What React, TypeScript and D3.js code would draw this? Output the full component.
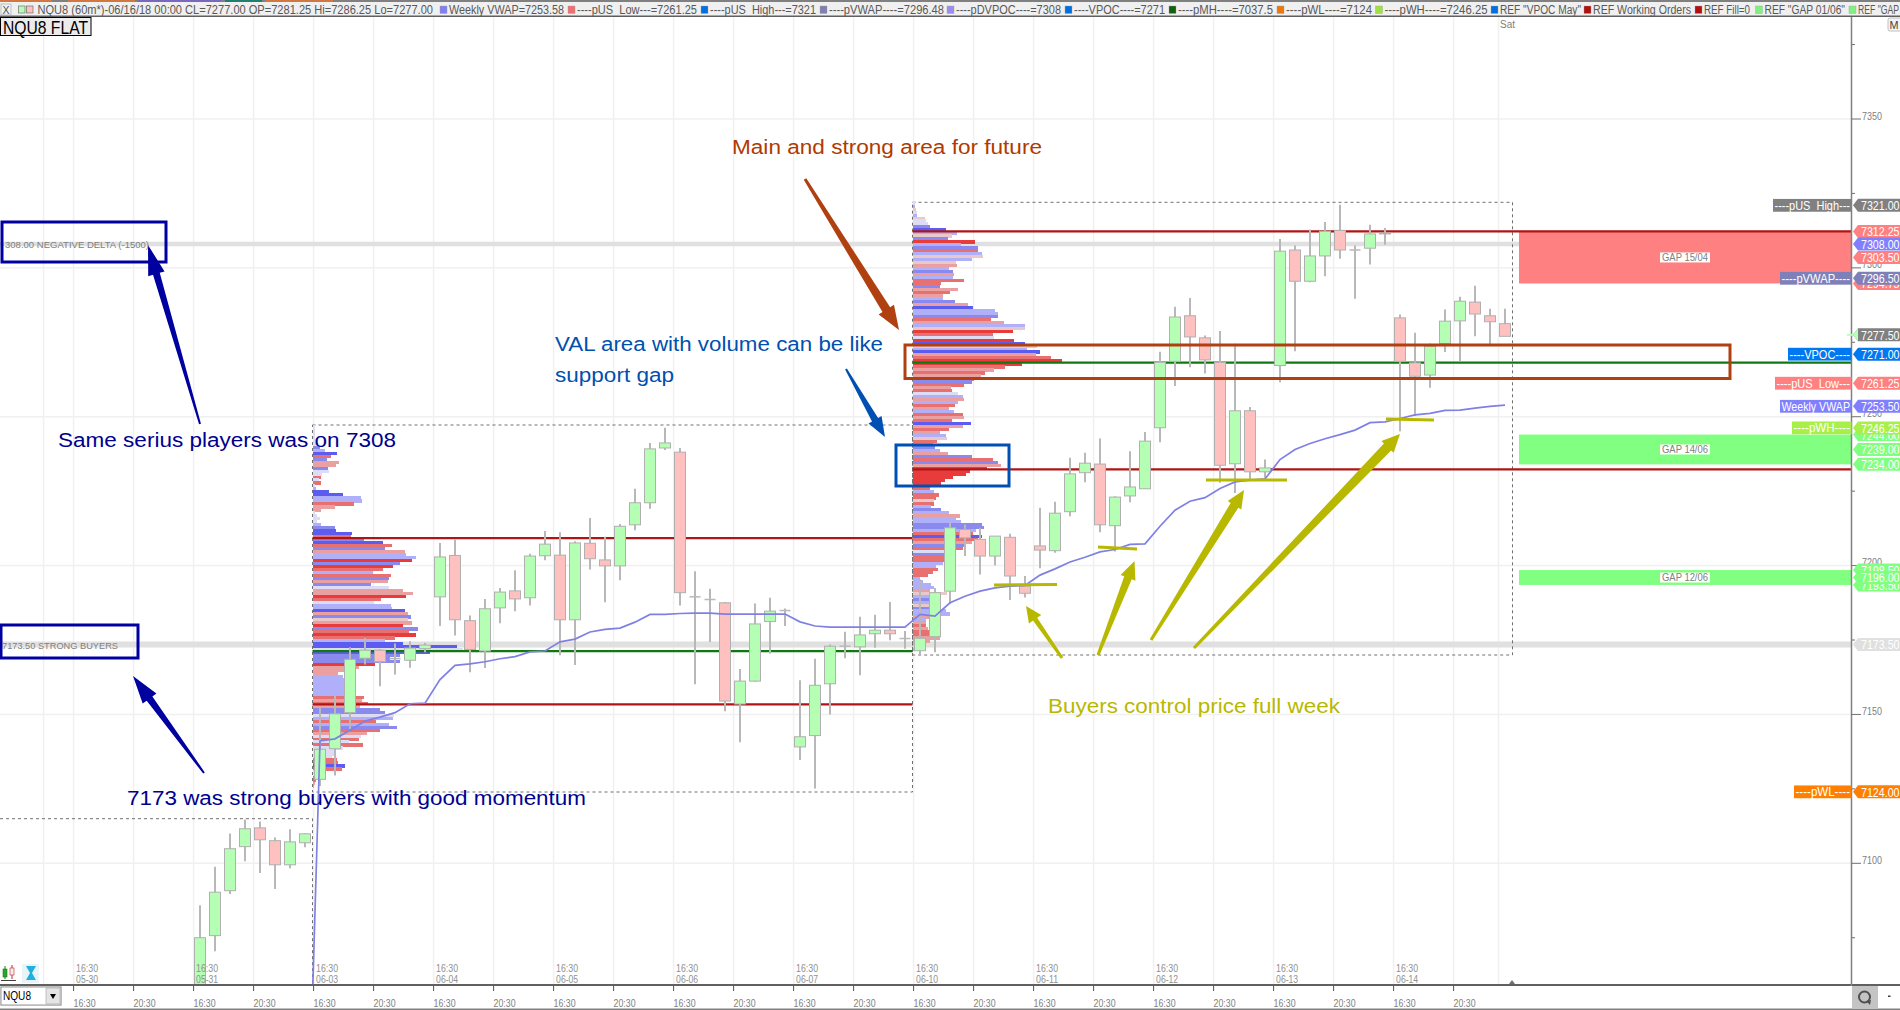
import React from "react";
import * as d3 from "d3";

// ---------- DATA ----------
const opens = [
  7056, 7075.7, 7090.8, 7105.6, 7111.9, 7107.6, 7099.5, 7106.9,
  7128.2, 7138.5, 7150.6, 7168.9, 7171.6, 7168.75, 7168.2, 7172.1,
  7189.5, 7203.4, 7181.5, 7171.3, 7185.8, 7191.5, 7189.2, 7203.3,
  7203.5, 7181.8, 7207.5, 7201.9, 7199.9, 7213.7, 7221.1, 7239.5,
  7238.1, 7189.5, 7188.6, 7187.5, 7153.5, 7161.2, 7181.2, 7184.9,
  7139.1, 7142.9, 7160.3, 7172.9, 7172.7, 7177.1, 7178.3, 7175.5,
  7171.4, 7176.1, 7191.4, 7212.1, 7208.8, 7203.2, 7209.5, 7193.1,
  7206.6, 7205, 7218.1, 7231.2, 7234.1, 7213.4, 7223.4, 7225.8,
  7246.3, 7268.6, 7283.9, 7276.5, 7268.3, 7234.2, 7252, 7231.5,
  7267.2, 7306, 7295.5, 7304, 7312.6, 7306, 7306.6, 7311.7,
  7283.2, 7268.1, 7264, 7274.6, 7282.2, 7288.5, 7283.9, 7281.25,
];
const highs = [
  7085.9, 7098.8, 7110, 7114.7, 7114, 7108.7, 7111.4, 7110,
  7152.2, 7156.2, 7172.6, 7175.7, 7171.9, 7173.8, 7174.6, 7174.1,
  7207.6, 7208.8, 7183.2, 7188.8, 7192.5, 7198.4, 7204, 7211.6,
  7211.2, 7208.2, 7216, 7209.7, 7214, 7225.8, 7241.2, 7246.3,
  7239.5, 7198.1, 7192.2, 7187.8, 7165.3, 7187.3, 7189.2, 7185.6,
  7161.5, 7168.7, 7173.5, 7177.8, 7182.8, 7183.5, 7187.8, 7178,
  7195.3, 7192.5, 7214.4, 7213.8, 7212.7, 7209.9, 7210.7, 7196.5,
  7219.4, 7221.4, 7236.2, 7237.9, 7242.7, 7223.3, 7238.4, 7244.9,
  7271.8, 7286.9, 7289.9, 7277.3, 7278.8, 7274.5, 7253.3, 7235.6,
  7309.7, 7307.5, 7312.9, 7315.4, 7321.2, 7307.5, 7314.5, 7313.4,
  7284.3, 7278.2, 7274.6, 7286, 7290.3, 7294, 7286.3, 7286.25,
];
const lows = [
  7050, 7070.5, 7089.7, 7100.7, 7096.7, 7091.4, 7098.3, 7105.4,
  7126, 7129.5, 7145, 7166.8, 7159.5, 7163.4, 7165.7, 7170.9,
  7179.7, 7176.5, 7164.2, 7165.6, 7180.6, 7184.7, 7186.6, 7201.8,
  7169.9, 7166.6, 7198.7, 7187.7, 7195.1, 7211.9, 7219.1, 7238.8,
  7186.6, 7160.1, 7174.3, 7151.1, 7140.7, 7160.9, 7170.4, 7179.7,
  7134.7, 7125.1, 7150, 7168.9, 7163.2, 7172.4, 7174.9, 7172.1,
  7170.1, 7170.9, 7187.2, 7203.2, 7197, 7200, 7188.4, 7189.3,
  7199.1, 7204.3, 7216.6, 7228, 7211.2, 7204.7, 7221.3, 7225.8,
  7241.4, 7260.3, 7266.6, 7264.5, 7227.8, 7224.4, 7228.9, 7229.5,
  7261.6, 7272, 7295.2, 7297.2, 7303.1, 7289.6, 7301.1, 7307.8,
  7245.1, 7250.2, 7259.7, 7271.7, 7268.6, 7277, 7274.2, 7277,
];
const closes = [
  7075, 7090.3, 7104.9, 7111.6, 7107.9, 7099.5, 7107.2, 7109.9,
  7138.3, 7150.2, 7168.5, 7171.6, 7167.7, 7168.75, 7172.3, 7173.3,
  7202.9, 7181.8, 7171.8, 7185.5, 7191.1, 7188.8, 7203.2, 7207.2,
  7181.8, 7207.6, 7202.3, 7199.9, 7213.2, 7221.1, 7239.2, 7241.2,
  7190.9, 7189.5, 7188.6, 7154.5, 7161.2, 7180.4, 7184.7, 7184.9,
  7142.5, 7159.8, 7172.9, 7172.9, 7176.7, 7178.3, 7177.1, 7175.5,
  7175.6, 7190.9, 7212.7, 7209.3, 7203.2, 7209.9, 7196.5, 7190.7,
  7205.2, 7217.6, 7230.8, 7234.4, 7213.7, 7223, 7226.4, 7241.8,
  7268.3, 7283.5, 7276.8, 7269.1, 7233.7, 7252, 7231.5, 7232.8,
  7305.6, 7295.5, 7304, 7312.3, 7306, 7306, 7311.4, 7311.4,
  7268.6, 7263.6, 7273.7, 7282.1, 7288.8, 7284.5, 7281.9, 7277,
];

const vwapBars = [
  7.5, 8, 9, 10, 11, 12, 13, 14, 15, 16, 17, 18, 19, 20, 21, 22, 23, 24, 25, 26, 27, 28, 29, 30, 31,
  32, 33, 34, 35, 36, 37, 38, 39, 40, 41, 42, 43, 44, 45, 46, 47, 48, 49, 50, 51, 52, 53, 54, 55,
  56, 57, 58, 59, 60, 61, 62, 63, 64, 65, 66, 67, 68, 69, 70, 71, 72, 73, 74, 75, 76, 77, 78, 79,
  80, 81, 82, 83, 84, 85, 86, 87,
];
const vwapValues = [
  7055, 7141.1, 7141.8, 7144.7, 7147.8, 7149.1, 7150.6, 7153.6, 7153.8, 7161.7, 7166.5, 7167, 7167.7,
  7168.7, 7169.4, 7171, 7171.3, 7174.4, 7175.3, 7177.7, 7178.6, 7179, 7181, 7183.6, 7183.6,
  7183.9, 7184, 7184, 7183.7, 7183.7, 7183.7, 7183.7, 7183.7, 7181.1, 7179.7, 7179.3, 7179.3, 7179.3,
  7179.3, 7179.3, 7179.3, 7183.6, 7183, 7187.5, 7189.7, 7191.4, 7192.5, 7193.1, 7193.3,
  7196.8, 7198.9, 7201.2, 7202.8, 7204.6, 7205.4, 7207.1, 7207.3, 7213.2, 7218.6, 7221.6, 7222.8,
  7225.9, 7228.1, 7228.7, 7229.1, 7235.6, 7239, 7241, 7242.6, 7244, 7245.5, 7248, 7248.3,
  7249.4, 7250.6, 7251.1, 7252.1, 7252.2, 7252.9, 7253.5, 7253.9,
];

const profile1TopPrice = 7246.75;
const profile1Volumes = [
  8, 8, 8, 8, 8, 8, 15, 22, 37, 72,
  54, 42, 78, 69, 45, 48, 27, 24, 20, 25,
  8, 9, 49, 91, 145, 148, 123, 66, 25, 8,
  12, 21, 12, 24, 66, 69, 117, 114, 154, 210,
  237, 216, 276, 279, 309, 297, 261, 240, 210, 180,
  234, 228, 225, 175, 228, 270, 300, 279, 204, 183,
  234, 237, 276, 285, 294, 285, 297, 270, 315, 288,
  309, 247, 217, 270, 432, 452, 352, 262, 232, 262,
  187, 139, 117, 77, 92, 95, 95, 95, 95, 95,
  95, 154, 147, 167, 142, 202, 217, 244, 240, 190,
  228, 252, 202, 162, 145, 138, 110, 150, 92, 67,
  70, 57, 72, 77, 97, 87, 32, 22, 12, 10,
  7, 4, 2,
];
const profile1Tones =
  "qqqqqqqbcB" + "rbllbqqrqr" + "qcBBccrllq" + "qqqcbBBrbB" + "rblccRbRrc" + "rblbqllRrq" +
  "ccBlbplRbr" + "RrcBBqBbbb" + "Rlllcccccc" + "crlrlbbqcr" + "cbrlqrqrqq" + "qqrrBrqqrr" + "lll";

const profile2TopPrice = 7321.75;
const profile2Volumes = [
  8, 8, 11, 14, 14, 38, 41, 47, 53, 101,
  134, 119, 107, 188, 144, 197, 197, 209, 212, 179,
  131, 134, 110, 122, 125, 122, 155, 86, 83, 137,
  113, 92, 92, 128, 167, 182, 248, 257, 257, 236,
  275, 338, 338, 302, 242, 245, 305, 338, 374, 342,
  383, 371, 416, 449, 327, 278, 245, 218, 206, 185,
  179, 155, 116, 119, 137, 152, 155, 137, 128, 110,
  125, 152, 155, 119, 176, 152, 110,
  81, 101, 104, 74, 61, 66, 83, 107, 179, 242,
  257, 266, 224, 171, 161, 122, 98, 86,
  51, 53, 65, 80, 71, 65, 65, 56, 86, 110,
  143, 131, 146, 209, 215, 191, 181, 209, 196, 179,
  161, 151, 121, 121, 95, 95, 90, 71, 76, 61,
  47, 21, 31, 56, 63, 51, 104, 51, 51, 71,
  71, 76, 101, 111, 51, 41, 41, 41, 46, 51,
  61, 81, 51, 41, 21, 11, 1,
];
const profile2Tones =
  "qcpqcpqqbB" + "cpbRcbrcpc" + "plcblcrrbl" + "rlcblBccbr" + "lcpRrqRBpc" + "BlrRRrlrlr" +
  "brlrqclcrl" + "crlrBlr" + "lcprcbclbr" + "blRRRRRR" + "Rrcrrprcbc" + "lccbbcrBrl" +
  "brqbrrccrr" + "rcccclpcbc" + "pbcclclrlr" + "rlllpcq";

const dayLabels = ["05-30", "05-31", "06-03", "06-04", "06-05", "06-06", "06-07", "06-10", "06-11", "06-12", "06-13", "06-14"];
const axisPriceTicks = [7350, 7300, 7250, 7200, 7150, 7100];
const minorPriceTicks = [7375, 7325, 7275, 7225, 7175, 7125, 7075];

const tagPrices = [7321, 7312.25, 7303.5, 7308, 7294.75, 7296.5, 7277.5, 7271, 7261.25, 7253.5, 7244, 7246.25, 7239, 7234, 7198.5, 7193.5, 7196, 7173.5, 7124];
const tagKinds = ["gray", "red", "red", "blue", "red", "slate", "gray", "vpoc", "red", "blue", "green", "lime", "green", "green", "green", "green", "green", "silver", "orange"];

const sideLabels = ["----pUS_High---", "----pVWAP----", "----VPOC----", "----pUS_Low---", "Weekly VWAP", "----pWH----", "----pWL----"];
const sidePrices = [7321, 7296.5, 7271, 7261.25, 7253.5, 7246.25, 7124];
const sideKinds = ["gray", "slate", "vpoc", "red", "blue", "lime", "orange"];

const gapNames = ["GAP 15/04", "GAP 14/06", "GAP 12/06"];
const gapTops = [7312.25, 7244, 7198.5];
const gapBottoms = [7294.75, 7234, 7193.5];
const gapFills = ["#ff8080", "#80ff80", "#80ff80"];

const legendTexts = [
  "NQU8 (60m*)-06/16/18 00:00 CL=7277.00 OP=7281.25 Hi=7286.25 Lo=7277.00",
  "Weekly VWAP=7253.58", "----pUS_Low---=7261.25", "----pUS_High---=7321", "----pVWAP----=7296.48",
  "----pDVPOC----=7308", "----VPOC----=7271", "----pMH----=7037.5", "----pWL----=7124", "----pWH----=7246.25",
  'REF "VPOC May"', "REF Working Orders", "REF Fill=0", 'REF "GAP 01/06"', 'REF "GAP',
];
const legendColors = ["", "#8080f0", "#f07070", "#0070e0", "#8080b0", "#9a8cf0", "#0070e0", "#106010", "#e87810", "#a0e040", "#0070e0", "#b01010", "#b01010", "#80f080", "#80f080"];

// ---------- LAYOUT ----------
const W = 1900, H = 1010;
const axisX = 1851.5, paneTop = 17, paneBottom = 984.5;
const legendStart = [37.5, 449, 577, 710, 829, 956, 1074, 1178, 1286, 1384.5, 1500, 1593, 1704, 1764.5, 1858];
const legendWidth = [395.5, 115, 120, 106, 115, 105, 91, 95, 86, 103, 81, 98, 46, 80.5, 41];
const sideLeft = [1773, 1780, 1788, 1775, 1780, 1792, 1794];

const tones: Record<string, string> = {
  R: "#e83c3c", r: "#e87070", l: "#eaa0a0", p: "#e8c8c8",
  B: "#5c5cf0", b: "#8a8aee", c: "#b0b0fa", q: "#dcdcf4",
};
const kinds: Record<string, string> = {
  gray: "#808080", red: "#ff8080", blue: "#8080ff", slate: "#8080b8", vpoc: "#0078f0",
  lime: "#a8f048", green: "#80ff80", silver: "#e0e0e0", orange: "#ff8000",
};

const x = d3.scaleLinear().domain([0, 87]).range([200, 1505]);
const y = d3.scaleLinear().domain([7100, 7350]).range([863.3, 119]);
const volScale = d3.scaleLinear().domain([0, 480]).range([0, 160]);
const bodyW = 11;
const tickX = (bar: number) => x(bar) - 6.4;
const sessionBars = d3.range(-8, 88, 4);
const narrow = "'Liberation Sans Narrow','Liberation Sans',Arial,sans-serif";
const sans = "'Liberation Sans',Arial,sans-serif";

const vwapLine = d3.line<number>().x((_, i) => x(vwapBars[i])).y((v) => y(v));

type Arrow = { from: number[]; to: number[]; tail: number; shaft: number; head: number; len: number; color: string };
const NAVY = "#0000a0", RUST = "#b04010", COBALT = "#0050b4", OLIVE = "#b8b800";
const arrows: Arrow[] = [
  { from: [200, 424], to: [148, 245], tail: 2, shaft: 7, head: 17, len: 30, color: NAVY },
  { from: [204, 773], to: [133, 676], tail: 2, shaft: 7, head: 17, len: 28, color: NAVY },
  { from: [805, 179], to: [899, 330], tail: 3, shaft: 9, head: 18, len: 24, color: RUST },
  { from: [846, 369], to: [885, 437], tail: 2, shaft: 7, head: 15, len: 20, color: COBALT },
  { from: [1062, 658], to: [1026, 606], tail: 3, shaft: 5, head: 15, len: 16, color: OLIVE },
  { from: [1098, 655], to: [1134.5, 561], tail: 3, shaft: 8, head: 16, len: 18, color: OLIVE },
  { from: [1151, 640], to: [1244, 490], tail: 3, shaft: 9, head: 16, len: 18, color: OLIVE },
  { from: [1194, 648], to: [1400, 434], tail: 3, shaft: 10, head: 17, len: 18, color: OLIVE },
];
function arrowPoints(a: Arrow) {
  const dx = a.to[0] - a.from[0], dy = a.to[1] - a.from[1];
  const L = Math.hypot(dx, dy), ux = dx / L, uy = dy / L, nx = -uy, ny = ux;
  const bx = a.to[0] - ux * a.len, by = a.to[1] - uy * a.len;
  const p = (px: number, py: number, w: number) => `${px + nx * w / 2},${py + ny * w / 2}`;
  const m = (px: number, py: number, w: number) => `${px - nx * w / 2},${py - ny * w / 2}`;
  return [
    p(a.from[0], a.from[1], a.tail), p(bx, by, a.shaft), p(bx, by, a.head), `${a.to[0]},${a.to[1]}`,
    m(bx, by, a.head), m(bx, by, a.shaft), m(a.from[0], a.from[1], a.tail),
  ].join(" ");
}
const oliveMarks = [
  [994, 585, 1057, 584.5],
  [1098, 547, 1137, 549],
  [1206, 480, 1287, 480],
  [1386, 419, 1434, 420],
];
const boxes = [
  { x: 2, y: 222, w: 164, h: 40, c: NAVY },
  { x: 1, y: 625, w: 137, h: 33, c: NAVY },
  { x: 896, y: 445, w: 113, h: 41, c: COBALT },
  { x: 905, y: 345, w: 825, h: 33.5, c: RUST },
];

function Fit(p: { x: number; y: number; w: number; size: number; fill: string; font?: string; text: string; anchor?: string; weight?: number }) {
  return (
    <text x={p.x} y={p.y} fontSize={p.size} fill={p.fill} fontFamily={p.font || narrow} textLength={p.w}
      lengthAdjust="spacingAndGlyphs" textAnchor={p.anchor as any} fontWeight={p.weight} dominantBaseline="central">
      {p.text}
    </text>
  );
}

function Profile({ base, top, vols, toneStr }: { base: number; top: number; vols: number[]; toneStr: string }) {
  return (
    <g shapeRendering="crispEdges">
      {vols.map((v, i) => {
        const price = top - i;
        const y0 = y(price + 0.5), y1 = y(price - 0.5);
        return <rect key={i} x={base} y={y0} width={volScale(v)} height={y1 - y0 + 0.3} fill={tones[toneStr[i]]} />;
      })}
    </g>
  );
}

function Tag({ price, kind, text }: { price: number; kind: string; text: string }) {
  const py = y(price);
  const pts = `1853,${py} 1858,${py - 6.5} 1900,${py - 6.5} 1900,${py + 6.5} 1858,${py + 6.5}`;
  const isLast = price === 7277.5;
  return (
    <g>
      {isLast && <rect x={1847} y={py - 1} width={6} height={2} fill="#b8ffb8" />}
      <polygon points={pts} fill={kinds[kind]} />
      {isLast && <polygon points={`1853,${py} 1858,${py - 6.5} 1858,${py + 6.5}`} fill="#b8ffb8" />}
      <Fit x={1861} y={py + 0.5} w={38.5} size={13.5} fill="#ffffff" text={text} />
    </g>
  );
}

export default function App() {
  const band1 = y(7308), band2 = y(7173.5);
  return (
    <svg width={W} height={H} viewBox={`0 0 ${W} ${H}`}
      style={{ position: "absolute", left: 0, top: 0, display: "block", background: "#fff" }}>
      <defs>
        <clipPath id="pane"><rect x={0} y={paneTop} width={axisX} height={paneBottom - paneTop} /></clipPath>
      </defs>

      {/* grid */}
      {[-10, ...sessionBars].map((b) => (
        <line key={b} x1={tickX(b)} x2={tickX(b)} y1={paneTop} y2={paneBottom} stroke="#f0f0f0" strokeWidth={1.5} />
      ))}
      <line x1={1498.5} x2={1498.5} y1={paneTop} y2={paneBottom} stroke="#f0f0f0" strokeWidth={1.5} />
      {axisPriceTicks.map((t) => (
        <line key={t} x1={0} x2={axisX} y1={y(t)} y2={y(t)} stroke="#f0f0f0" strokeWidth={1.5} />
      ))}

      {/* reference bands */}
      <line x1={0} x2={1519} y1={band1} y2={band1} stroke="#e0e0e0" strokeWidth={4.5} />
      <line x1={0} x2={axisX} y1={band2} y2={band2} stroke="#e0e0e0" strokeWidth={6} />

      {/* gaps */}
      {gapNames.map((g, i) => (
        <g key={g}>
          <rect x={1519} width={axisX - 1519} y={y(gapTops[i])} height={y(gapBottoms[i]) - y(gapTops[i])} fill={gapFills[i]} />
          <rect x={1660} width={50} y={(y(gapTops[i]) + y(gapBottoms[i])) / 2 - 5} height={10} fill="#ffffff" />
          <Fit x={1662} y={(y(gapTops[i]) + y(gapBottoms[i])) / 2} w={46} size={10.5} fill="#808080" font={sans} text={g} />
        </g>
      ))}

      {/* session boxes */}
      <g fill="none" stroke="#707070" strokeWidth={1} strokeDasharray="3 3">
        <path d={`M0,818.7 H${x(7.5)} V${paneBottom}`} />
        <path d={`M${x(7.5)},425 H${x(47.5)} V792 H${x(7.5)} Z`} />
        <path d={`M${x(47.5)},202.3 H1512.5 V655 H${x(47.5)} Z`} />
      </g>

      {/* volume profiles */}
      <Profile base={x(7.5)} top={profile1TopPrice} vols={profile1Volumes} toneStr={profile1Tones} />
      <Profile base={x(47.5)} top={profile2TopPrice} vols={profile2Volumes} toneStr={profile2Tones} />

      {/* profile levels */}
      <g strokeWidth={2.2}>
        <line x1={x(7.5)} x2={x(47.5)} y1={y(7209.2)} y2={y(7209.2)} stroke="#b01414" />
        <line x1={x(7.5)} x2={x(47.5)} y1={y(7153.4)} y2={y(7153.4)} stroke="#b01414" />
        <line x1={x(7.5)} x2={x(47.5)} y1={y(7171.25)} y2={y(7171.25)} stroke="#107810" />
        <line x1={x(47.5)} x2={axisX} y1={y(7312.25)} y2={y(7312.25)} stroke="#b01414" />
        <line x1={x(47.5)} x2={axisX} y1={y(7232.3)} y2={y(7232.3)} stroke="#b01414" />
        <line x1={x(47.5)} x2={axisX} y1={y(7268.2)} y2={y(7268.2)} stroke="#107810" />
      </g>

      {/* candles */}
      <g clipPath="url(#pane)">
        {opens.map((o, i) => {
          const c = closes[i], up = c > o, cx = x(i);
          const yT = y(Math.max(o, c)), yB = y(Math.min(o, c));
          return (
            <g key={i}>
              <line x1={cx} x2={cx} y1={y(highs[i])} y2={y(lows[i])} stroke="#b8b8b8" strokeWidth={2} />
              {o === c ? (
                <line x1={cx - bodyW / 2} x2={cx + bodyW / 2} y1={yT} y2={yT} stroke="#b8b8b8" strokeWidth={1.5} />
              ) : (
                <rect x={cx - bodyW / 2} y={yT} width={bodyW} height={yB - yT}
                  fill={up ? "#b4ffb4" : "#ffc0c0"} stroke="#b0b0b0" strokeWidth={1} />
              )}
            </g>
          );
        })}
        <path d={vwapLine(vwapValues) || ""} fill="none" stroke="#8080e4" strokeWidth={1.7} />
      </g>

      {/* drawings */}
      {oliveMarks.map((m, i) => (
        <line key={i} x1={m[0]} y1={m[1]} x2={m[2]} y2={m[3]} stroke={OLIVE} strokeWidth={3} />
      ))}
      {boxes.map((b, i) => (
        <rect key={i} x={b.x} y={b.y} width={b.w} height={b.h} fill="none" stroke={b.c} strokeWidth={3} />
      ))}
      {arrows.map((a, i) => (
        <polygon key={i} points={arrowPoints(a)} fill={a.color} />
      ))}
      <Fit x={5} y={244} w={144} size={9.5} fill="#808080" font={sans} text="308.00 NEGATIVE DELTA (-1500)" />
      <Fit x={2} y={645} w={116} size={9.5} fill="#808080" font={sans} text="7173.50 STRONG BUYERS" />
      <Fit x={58} y={440} w={338} size={20} fill="#000090" font={sans} text="Same serius players was on 7308" />
      <Fit x={127} y={798} w={459} size={20} fill="#000090" font={sans} text="7173 was strong buyers with good momentum" />
      <Fit x={732} y={147} w={310} size={20} fill="#b03a00" font={sans} text="Main and strong area for future" />
      <Fit x={555} y={344} w={328} size={20} fill="#0050b0" font={sans} text="VAL area with volume can be like" />
      <Fit x={555} y={375} w={119} size={20} fill="#0050b0" font={sans} text="support gap" />
      <Fit x={1048} y={706} w={292} size={20} fill="#b8b800" font={sans} text="Buyers control price full week" />

      {/* date labels in the pane */}
      {dayLabels.map((d, i) => {
        const tx = tickX(sessionBars[i * 2]) + 2.5;
        return (
          <g key={d}>
            <Fit x={tx} y={967.5} w={22} size={11} fill="#909090" text="16:30" />
            <Fit x={tx} y={978.5} w={22} size={11} fill="#909090" text={d} />
          </g>
        );
      })}

      {/* x axis */}
      <rect x={0} y={984} width={W} height={2} fill="#606060" />
      <rect x={0} y={1008.5} width={W} height={1.5} fill="#808080" />
      {sessionBars.map((b, i) => (
        <g key={b}>
          <line x1={tickX(b)} x2={tickX(b)} y1={986} y2={991} stroke="#505050" strokeWidth={1} />
          <Fit x={tickX(b)} y={1002.5} w={22} size={11} fill="#808080" text={i % 2 === 0 ? "16:30" : "20:30"} />
        </g>
      ))}
      <polygon points="1512,980 1509,984 1515,984" fill="#707070" />

      {/* y axis */}
      <line x1={axisX} x2={axisX} y1={paneTop} y2={986} stroke="#808080" strokeWidth={1.5} />
      {minorPriceTicks.map((t) => (
        <line key={t} x1={axisX} x2={axisX + 3.5} y1={y(t)} y2={y(t)} stroke="#707070" />
      ))}
      {axisPriceTicks.map((t) => (
        <g key={t}>
          <line x1={axisX} x2={axisX + 9.5} y1={y(t)} y2={y(t)} stroke="#707070" />
          <Fit x={1862} y={y(t) - 3.5} w={20} size={11} fill="#808080" text={String(t)} />
        </g>
      ))}

      {/* side labels */}
      {sideLabels.map((s, i) => (
        <g key={s}>
          <rect x={sideLeft[i]} width={axisX - sideLeft[i]} y={y(sidePrices[i]) - 6.4} height={12.8} fill={kinds[sideKinds[i]]} />
          <Fit x={sideLeft[i] + 1.5} y={y(sidePrices[i]) + 0.5} w={axisX - sideLeft[i] - 3} size={12} fill="#ffffff" text={s} />
        </g>
      ))}
      {tagPrices.map((p, i) => (
        <Tag key={p} price={p} kind={tagKinds[i]} text={p.toFixed(2)} />
      ))}

      {/* header */}
      <rect x={0} y={0} width={W} height={16} fill="#f0f0f0" />
      <rect x={0} y={0} width={W} height={2} fill="#808080" />
      <rect x={0} y={0} width={52} height={2} fill="#d07840" />
      <rect x={68} y={0} width={67} height={2} fill="#d07840" />
      <rect x={138} y={0} width={83} height={2} fill="#7868c0" />
      <rect x={225} y={0} width={37} height={2} fill="#208070" />
      <rect x={265} y={0} width={68} height={2} fill="#d07840" />
      <rect x={0} y={15.5} width={W} height={1.5} fill="#606060" />
      <rect x={1} y={4} width={10} height={11} fill="none" stroke="#a0a0a0" strokeWidth={0.6} />
      <Fit x={2.5} y={10} w={7} size={11} fill="#505050" text="X" />
      <rect x={18.5} y={6} width={6.5} height={7} fill="#b4ffb4" stroke="#707070" strokeWidth={0.7} />
      <rect x={26.5} y={6} width={6.5} height={7} fill="#ffc0c0" stroke="#707070" strokeWidth={0.7} />
      {legendTexts.map((t, i) => (
        <g key={t}>
          {legendColors[i] && (
            <rect x={legendStart[i] - 9} y={6} width={7} height={7.5} fill={legendColors[i]} stroke="#a0a0a0" strokeWidth={0.4} />
          )}
          <Fit x={legendStart[i]} y={10.3} w={legendWidth[i]} size={12} fill="#585858" text={t} />
        </g>
      ))}

      {/* corner widgets */}
      <rect x={0.5} y={17.5} width={90.5} height={18} fill="#ececec" stroke="#000" strokeWidth={1} />
      <Fit x={3} y={27} w={85} size={19} fill="#000" text="NQU8 FLAT" />
      <Fit x={1500} y={24.5} w={15} size={10} fill="#808080" text="Sat" />
      <rect x={1888} y={18} width={14} height={13} rx={2} fill="#f4f4f4" stroke="#c0c0c0" />
      <Fit x={1889.5} y={24.5} w={9} size={11} fill="#404040" text="M" />

      {/* pane tools */}
      <rect x={22} y={964} width={17} height={19} fill="#e8f4f8" />
      <path d="M26,966 H36 L32,973 L36,980 H26 L30,973 Z" fill="#20b0e0" />
      <rect x={1} y={980} width={15} height={1} fill="#404040" />
      <line x1={5} x2={5} y1={966} y2={979} stroke="#108010" strokeWidth={1} />
      <rect x={3} y={969} width={4} height={8} fill="#30a030" stroke="#108010" strokeWidth={0.6} />
      <line x1={12} x2={12} y1={965} y2={979} stroke="#d02020" strokeWidth={1} />
      <rect x={10} y={968} width={4} height={7} fill="#f0f0f0" stroke="#d02020" strokeWidth={0.6} />

      {/* symbol selector */}
      <rect x={0} y={986} width={62} height={20} fill="#e4e4e4" />
      <rect x={1} y={987} width={60} height={18} fill="#fff" stroke="#808080" strokeWidth={0.8} />
      <rect x={46} y={988} width={14} height={16} fill="#e4e4e4" stroke="#a0a0a0" strokeWidth={0.6} />
      <polygon points="50,994 56,994 53,999" fill="#000" />
      <Fit x={3} y={996} w={28} size={12} fill="#000" text="NQU8" />

      {/* refresh widget */}
      <rect x={1852} y={986} width={26} height={23} fill="#c4c4c4" />
      <circle cx={1864.5} cy={997} r={5.5} fill="none" stroke="#505050" strokeWidth={2} />
      <polygon points="1866,1001 1871,1000 1870,1005" fill="#505050" />
      <rect x={1888} y={995.5} width={2.5} height={1.5} fill="#404040" />
    </svg>
  );
}
